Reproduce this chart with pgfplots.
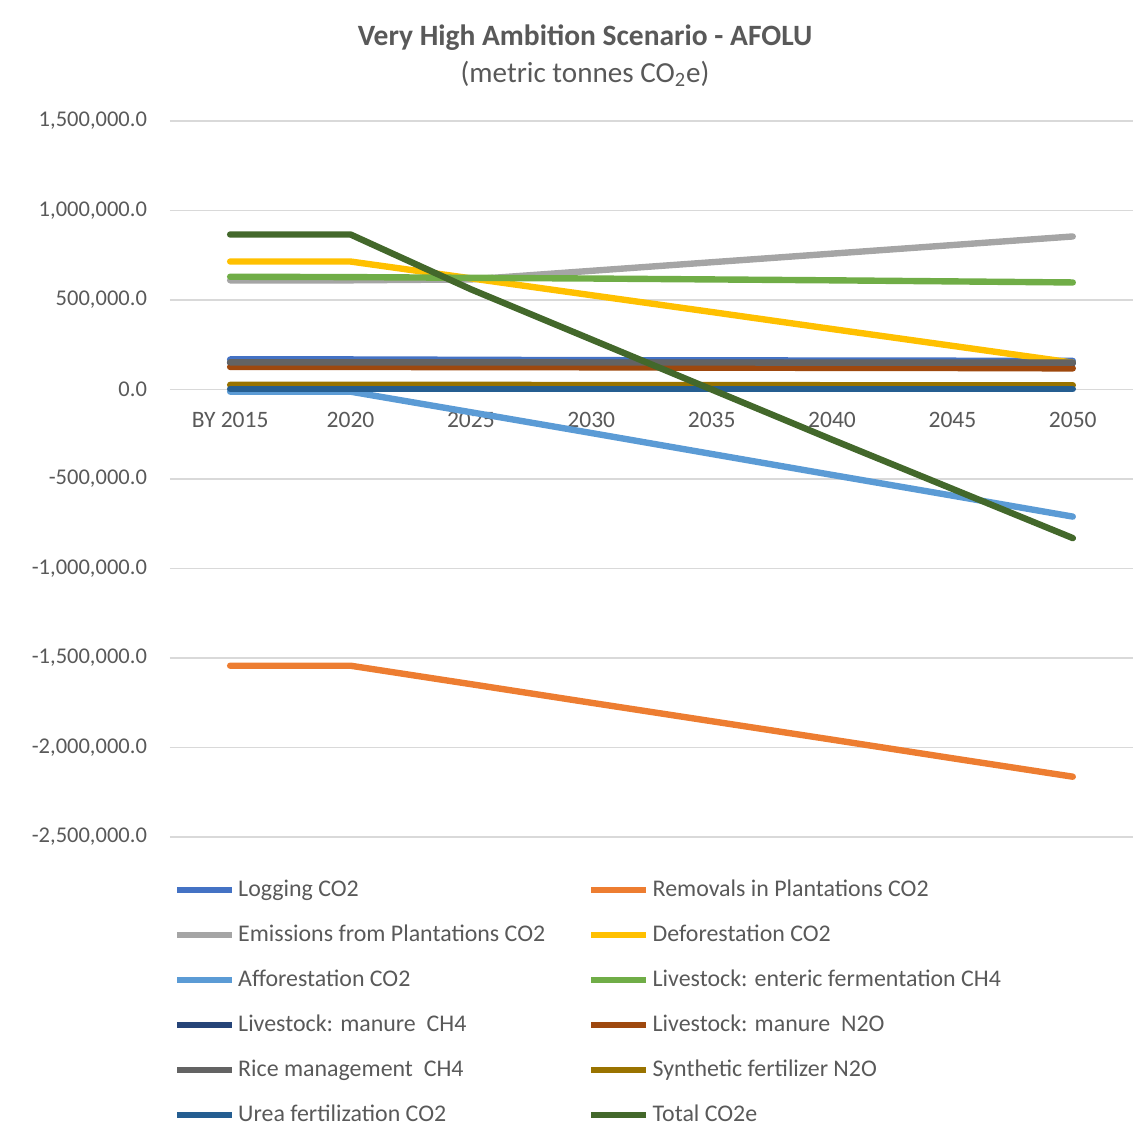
\documentclass[border=0pt]{standalone}
\usepackage{fontspec}
\setmainfont{Carlito}
\usepackage{pgfplots}
\pgfplotsset{compat=1.18}

\definecolor{gridc}{HTML}{D9D9D9}
\definecolor{txt}{HTML}{595959}
\definecolor{ctLog}{HTML}{4472C4}
\definecolor{ctRem}{HTML}{ED7D31}
\definecolor{ctEmi}{HTML}{A5A5A5}
\definecolor{ctDef}{HTML}{FFC000}
\definecolor{ctAff}{HTML}{5B9BD5}
\definecolor{ctEnt}{HTML}{70AD47}
\definecolor{ctMCH}{HTML}{264478}
\definecolor{ctMNO}{HTML}{9E480E}
\definecolor{ctRic}{HTML}{636363}
\definecolor{ctSyn}{HTML}{997300}
\definecolor{ctUre}{HTML}{255E91}
\definecolor{ctTot}{HTML}{43682B}

\begin{document}
\begin{tikzpicture}
\begin{axis}[
  scale only axis,
  width=481.5bp, height=358bp,
  xmin=-0.5, xmax=7.5,
  ymin=-2500000, ymax=1500000,
  axis x line=middle,
  axis y line*=left,
  x axis line style={-, draw=gridc, line width=0.6bp},
  y axis line style={draw=none},
  hide obscured y ticks=false,
  hide obscured x ticks=false,
  major tick length=0pt,
  xtick={0,...,7},
  xticklabels={BY 2015,2020,2025,2030,2035,2040,2045,2050},
  xticklabel style={font=\fontsize{11.8}{13}\selectfont, text=txt, yshift=-8bp},
  ytick={-2500000,-2000000,...,1500000},
  scaled y ticks=false,
  yticklabel style={font=\fontsize{11.3}{13}\selectfont, text=txt, xshift=-8bp,
    /pgf/number format/.cd, fixed, fixed zerofill, precision=1, 1000 sep={,}},
  /pgf/number format/assume math mode=true,
  ymajorgrids,
  grid style={gridc, line width=0.6bp},
  every axis plot/.append style={line width=3.2bp, line cap=round, line join=round},
  legend columns=2,
  legend cell align=left,
  legend style={at={(rel axis cs:0.004,-0.055)}, anchor=north west, draw=none, fill=none,
    font=\fontsize{12}{13}\selectfont, text=txt, row sep=8.7bp,
    nodes={inner xsep=1.5bp},
    /tikz/every even column/.append style={column sep=20bp},
    inner sep=0pt, outer sep=0pt},
  legend image code/.code={\draw[#1, line cap=butt] (0bp,0bp) -- (27.5bp,0bp);},
  clip=false,
]
\addplot[ctLog] coordinates {(0,168000) (1,168000) (2,166000) (3,164000) (4,163000) (5,162000) (6,161000) (7,160000)};
\addplot[ctRem] coordinates {(0,-1543000) (1,-1543000) (2,-1646000) (3,-1750000) (4,-1853000) (5,-1956000) (6,-2060000) (7,-2163000)};
\addplot[ctEmi] coordinates {(0,610000) (1,610000) (2,615000) (3,663000) (4,711000) (5,759000) (6,807000) (7,855000)};
\addplot[ctDef] coordinates {(0,715000) (1,715000) (2,621000) (3,527000) (4,433000) (5,338000) (6,244000) (7,150000)};
\addplot[ctAff] coordinates {(0,-12000) (1,-12000) (2,-127000) (3,-243000) (4,-360000) (5,-477000) (6,-593000) (7,-710000)};
\addplot[ctEnt] coordinates {(0,630000) (1,628000) (2,624000) (3,620000) (4,615000) (5,610000) (6,604000) (7,598000)};
\addplot[ctMCH] coordinates {(0,150000) (1,150000) (2,150000) (3,149000) (4,149000) (5,148000) (6,148000) (7,147000)};
\addplot[ctMNO] coordinates {(0,126000) (1,126000) (2,125000) (3,124000) (4,122000) (5,121000) (6,120000) (7,118000)};
\addplot[ctRic] coordinates {(0,152000) (1,152000) (2,152000) (3,151000) (4,151000) (5,150000) (6,150000) (7,150000)};
\addplot[ctSyn] coordinates {(0,26000) (1,26000) (2,26000) (3,25000) (4,25000) (5,24000) (6,24000) (7,24000)};
\addplot[ctUre] coordinates {(0,3000) (1,3000) (2,3000) (3,3000) (4,3000) (5,3000) (6,3000) (7,3000)};
\addplot[ctTot] coordinates {(0,866000) (1,866000) (2,560000) (3,280000) (4,0) (5,-280000) (6,-555000) (7,-830000)};
\legend{Logging CO2, Removals in Plantations CO2, Emissions from Plantations CO2, Deforestation CO2, Afforestation CO2, Livestock: enteric fermentation CH4, Livestock: manure\ \ CH4, Livestock: manure\ \ N2O, Rice management\ \ CH4, Synthetic fertilizer N2O, Urea fertilization CO2, Total CO2e}
\node[font=\bfseries\fontsize{14.8}{17}\selectfont, text=txt] at (rel axis cs:0.431,1.117) {Very High Ambition Scenario - AFOLU};
\node[font=\fontsize{14.6}{17}\selectfont, text=txt] at (rel axis cs:0.431,1.066) {(metric tonnes CO\textsubscript{2}e)};
\path (rel axis cs:-0.1765,-0.4036) rectangle (rel axis cs:1.0021,1.169);
\end{axis}
\end{tikzpicture}
\end{document}
